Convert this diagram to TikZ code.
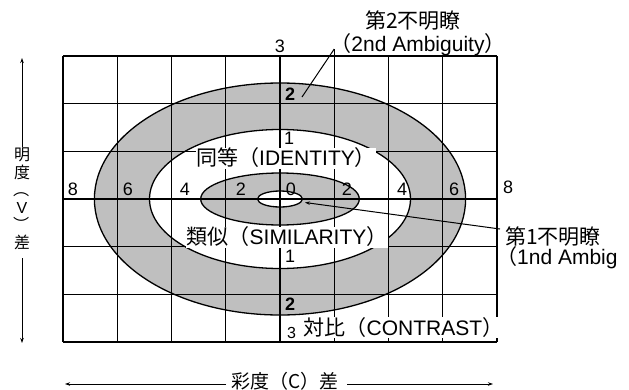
\documentclass[tikz,border=0pt]{standalone}
\usepackage{graphicx}
\usepackage{fontspec}
\setmainfont{Liberation Sans}
\newfontfamily\jp{Noto Sans CJK JP}
\usetikzlibrary{arrows.meta}
\begin{document}
\begin{tikzpicture}[x=1pt,y=-1pt,
  gridline/.style={line width=1.1pt},
  ring/.style={line width=1.3pt},
  greyfill/.style={fill=black!25},
  num/.style={font=\fontsize{18}{18}\selectfont, inner sep=0pt},
  bnum/.style={font=\fontsize{18}{18}\selectfont\bfseries, inner sep=0pt},
  lab/.style={font=\fontsize{21}{21}\selectfont, fill=white, inner sep=0.5pt},
  side/.style={font=\fontsize{21}{21}\selectfont, inner sep=0pt},
  vside/.style={font=\jp\fontsize{16}{17.5}\selectfont, inner sep=0pt, align=center},
  lead/.style={line width=1pt},
  tip/.style={-{Stealth[length=5pt,width=3.5pt]}, line width=1pt}]
\useasboundingbox (0,0) rectangle (629,389);
\fill[white] (0,0) rectangle (629,389);
\coordinate (C) at (280,199);
% rings
\fill[greyfill] (C) ellipse [x radius=185.6pt, y radius=116pt];
\fill[white] (C) ellipse [x radius=130.5pt, y radius=69.5pt];
\fill[greyfill] (C) ellipse [x radius=79.3pt, y radius=26pt];
\fill[white] (C) ellipse [x radius=22.5pt, y radius=8pt];
% grid
\foreach \i in {0,...,8} \draw[gridline] ({63+54.25*\i},56) -- ({63+54.25*\i},342);
\foreach \j in {0,...,6} \draw[gridline] (63,{56+47.667*\j}) -- (497,{56+47.667*\j});
\draw[gridline] (334.25,56) -- (334.25,49);
% ellipse outlines
\draw[ring] (C) ellipse [x radius=185.6pt, y radius=116pt];
\draw[ring] (C) ellipse [x radius=130.5pt, y radius=69.5pt];
\draw[ring] (C) ellipse [x radius=79.3pt, y radius=26pt];
\draw[ring] (C) ellipse [x radius=22.5pt, y radius=8pt];
% horizontal numbers
\node[num, anchor=south] (h1) at (73,196) {8};
\node[num, anchor=south] (h2) at (128,196) {6};
\node[num, anchor=south] (h3) at (185,196) {4};
\node[num, anchor=south] (h4) at (241,196) {2};
\node[num, anchor=south] (h5) at (291,196) {0};
\node[num, anchor=south] (h6) at (347,196) {2};
\node[num, anchor=south] (h7) at (402,196) {4};
\node[num, anchor=south] (h8) at (454,196) {6};
\node[num, anchor=south] (h9) at (508,194) {8};
% vertical numbers
\node[num, anchor=south] (v3) at (280,53) {3};
\node[bnum, anchor=south west] (v2u) at (285,101) {2};
\node[num, anchor=south west] (v1u) at (284,145) {1};
\node[num, anchor=north west] (v1d) at (285,250) {1};
\node[bnum, anchor=north west] (v2d) at (285,298) {2};
\node[num, font=\fontsize{16}{16}\selectfont, anchor=south west] (v3d) at (287,339) {3};
% labels
\node[lab] (ident) at (286,158) {{\jp 同等（}IDENTITY{\jp ）}};
\node[lab] (simil) at (287,237) {{\jp 類似（}SIMILARITY{\jp ）}};
\node[lab, anchor=base west] (contr) at (303,335) {{\jp 対比（}CONTRAST{\jp ）}};
\node[side] (amb2a) at (413,21) {\jp 第2不明瞭};
\node[side] (amb2b) at (418,45) {{\jp （}2nd Ambiguity{\jp ）}};
\node[side, anchor=west] (amb1a) at (505,237) {\jp 第1不明瞭};
\node[side, anchor=west] (amb1b) at (496,258) {{\jp （}1nd Ambig};
% leaders
\coordinate (p2) at (334.25,49);
\coordinate (p2e) at (302,97);
\draw[lead] (p2) -- (p2e);
\coordinate (p1) at (500,229);
\coordinate (p1e) at (305,202.5);
\draw[tip] (p1) -- (p1e);
% vertical axis
\node[vside] (va) at (22,199) {明\\度\\\rotatebox[origin=c]{-90}{（}\\{\rmfamily V}\\\rotatebox[origin=c]{-90}{）}\\差};
\coordinate (vt) at (22,58);
\coordinate (vb) at (22,343);
\coordinate (vts) at (22,147);
\coordinate (vbs) at (22,258);
\draw[tip] (vts) -- (vt);
\draw[tip] (vbs) -- (vb);
% horizontal axis
\node[side, font=\fontsize{19}{19}\selectfont] (ha) at (285,381) {\jp 彩度（C）差};
\coordinate (hl) at (65,384);
\coordinate (hr) at (493,384);
\coordinate (hls) at (226,384);
\coordinate (hrs) at (347,384);
\draw[tip] (hls) -- (hl);
\draw[tip] (hrs) -- (hr);
\end{tikzpicture}
\end{document}
